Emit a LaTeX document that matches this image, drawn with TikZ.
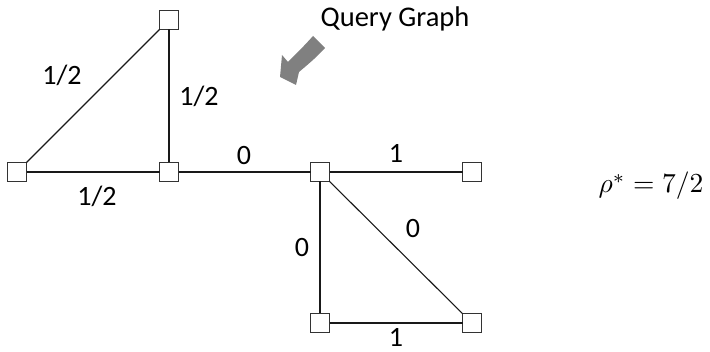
\documentclass[tikz,border=0pt]{standalone}
\usepackage[no-math]{fontspec}
\newfontfamily\labfont{Carlito}
\begin{document}
\begin{tikzpicture}[x=1pt,y=-1pt,
  vbox/.style={draw=black!80, fill=white, line width=0.9pt, minimum size=19pt, inner sep=0pt, outer sep=0pt},
  edge/.style={line width=1.1pt, black!90},
  lab/.style={font=\labfont\fontsize{28}{30}\selectfont, inner sep=0pt}]
\useasboundingbox (0,0) rectangle (710,352);
% vertices
\node[vbox] (T)  at (169,20) {};
\node[vbox] (L)  at (17,172) {};
\node[vbox] (M)  at (169,172) {};
\node[vbox] (C)  at (320,172) {};
\node[vbox] (R)  at (472,172) {};
\node[vbox] (BL) at (320,323) {};
\node[vbox] (BR) at (472,323) {};
% edges
\draw[edge] (L) -- (T);
\draw[edge] (T) -- (M);
\draw[edge] (L) -- (M);
\draw[edge] (M) -- (C);
\draw[edge] (C) -- (R);
\draw[edge] (C) -- (BL);
\draw[edge] (C) -- (BR);
\draw[edge] (BL) -- (BR);
% edge labels
\node[lab] (lLT) at (62,75) {1/2};
\node[lab] (lTM) at (199,96) {1/2};
\node[lab] (lLM) at (97,196) {1/2};
\node[lab] (lMC) at (244,156) {0};
\node[lab] (lCR) at (396,153) {1};
\node[lab] (lCBL) at (302,248) {0};
\node[lab] (lCBR) at (413,229) {0};
\node[lab] (lBLBR) at (396,337) {1};
% title
\node[lab, anchor=base, font=\labfont\fontsize{28.5}{30}\selectfont] (title) at (395,27) {Query Graph};
% block arrow
\fill[black!50] (313,36) -- (325,48) .. controls (316,58) and (306,66) .. (299,72)
  -- (296,85) -- (280,77) -- (282,55) -- (288,62) .. controls (296,54) and (305,45) .. (313,36) -- cycle;
% rho
\node[inner sep=0pt, anchor=base, scale=2.75] (rho) at (651,193) {$\rho^* = 7/2$};
\end{tikzpicture}
\end{document}
